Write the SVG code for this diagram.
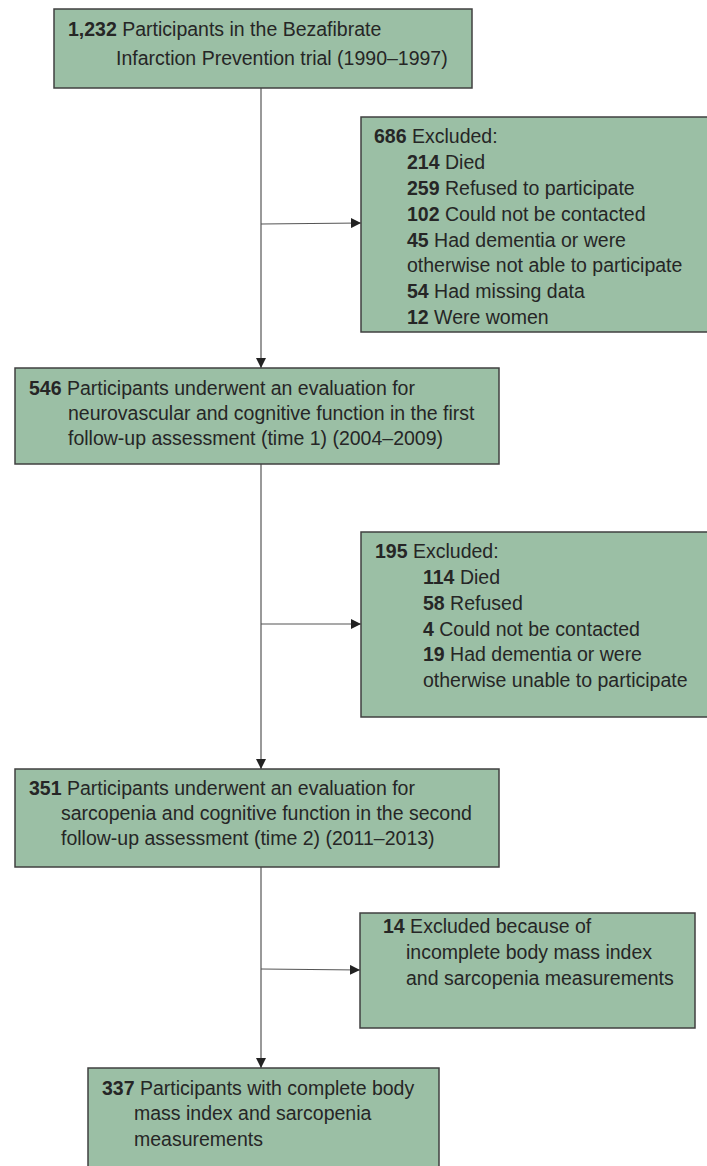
<svg xmlns="http://www.w3.org/2000/svg" width="707" height="1166" viewBox="0 0 707 1166">
<defs>
<style>
.box{fill:#9bbfa5;stroke:#404040;stroke-width:1.5}
.t{font-family:"Liberation Sans",Arial,sans-serif;font-size:19.5px;fill:#262626}
.b{font-weight:bold}
.c{stroke:#555;stroke-width:1.2;fill:none}
</style>
<marker id="ah" viewBox="0 0 10 10" refX="10" refY="5" markerWidth="10" markerHeight="10" markerUnits="userSpaceOnUse" orient="auto">
<path d="M0,0 L10,5 L0,10 Z" fill="#222"/>
</marker>
</defs>
<rect width="707" height="1166" fill="#fff"/>
<g id="connectors">
<line class="c" x1="261" y1="88" x2="261" y2="368" marker-end="url(#ah)"/>
<line class="c" x1="261" y1="224" x2="361" y2="223" marker-end="url(#ah)"/>
<line class="c" x1="261" y1="464" x2="261" y2="769" marker-end="url(#ah)"/>
<line class="c" x1="261" y1="624" x2="361" y2="624" marker-end="url(#ah)"/>
<line class="c" x1="261" y1="867" x2="261" y2="1068" marker-end="url(#ah)"/>
<line class="c" x1="261" y1="969" x2="360" y2="970" marker-end="url(#ah)"/>
</g>
<g id="n1">
<rect class="box" x="54" y="9" width="418" height="79"/>
<text class="t" x="68" y="36"><tspan class="b">1,232</tspan> Participants in the Bezafibrate</text>
<text class="t" x="116" y="65">Infarction Prevention trial (1990–1997)</text>
</g>
<g id="n2">
<rect class="box" x="361" y="117" width="350" height="215"/>
<text class="t" x="374" y="143"><tspan class="b">686</tspan> Excluded:</text>
<text class="t" x="407" y="169"><tspan class="b">214</tspan> Died</text>
<text class="t" x="407" y="195"><tspan class="b">259</tspan> Refused to participate</text>
<text class="t" x="407" y="221"><tspan class="b">102</tspan> Could not be contacted</text>
<text class="t" x="407" y="247"><tspan class="b">45</tspan> Had dementia or were</text>
<text class="t" x="407" y="272">otherwise not able to participate</text>
<text class="t" x="407" y="298"><tspan class="b">54</tspan> Had missing data</text>
<text class="t" x="407" y="324"><tspan class="b">12</tspan> Were women</text>
</g>
<g id="n3">
<rect class="box" x="15" y="368" width="484" height="96"/>
<text class="t" x="29" y="395"><tspan class="b">546</tspan> Participants underwent an evaluation for</text>
<text class="t" x="68" y="420">neurovascular and cognitive function in the first</text>
<text class="t" x="68" y="445">follow-up assessment (time 1) (2004–2009)</text>
</g>
<g id="n4">
<rect class="box" x="361" y="532" width="350" height="185"/>
<text class="t" x="375" y="558"><tspan class="b">195</tspan> Excluded:</text>
<text class="t" x="423" y="584"><tspan class="b">114</tspan> Died</text>
<text class="t" x="423" y="610"><tspan class="b">58</tspan> Refused</text>
<text class="t" x="423" y="636"><tspan class="b">4</tspan> Could not be contacted</text>
<text class="t" x="423" y="661"><tspan class="b">19</tspan> Had dementia or were</text>
<text class="t" x="423" y="687">otherwise unable to participate</text>
</g>
<g id="n5">
<rect class="box" x="15" y="769" width="484" height="98"/>
<text class="t" x="29" y="795"><tspan class="b">351</tspan> Participants underwent an evaluation for</text>
<text class="t" x="61" y="820">sarcopenia and cognitive function in the second</text>
<text class="t" x="61" y="845">follow-up assessment (time 2) (2011–2013)</text>
</g>
<g id="n6">
<rect class="box" x="360" y="913" width="335" height="115"/>
<text class="t" x="383" y="933"><tspan class="b">14</tspan> Excluded because of</text>
<text class="t" x="406" y="959">incomplete body mass index</text>
<text class="t" x="406" y="985">and sarcopenia measurements</text>
</g>
<g id="n7">
<rect class="box" x="88" y="1068" width="351" height="102"/>
<text class="t" x="102" y="1095"><tspan class="b">337</tspan> Participants with complete body</text>
<text class="t" x="134" y="1120">mass index and sarcopenia</text>
<text class="t" x="134" y="1146">measurements</text>
</g>
</svg>
